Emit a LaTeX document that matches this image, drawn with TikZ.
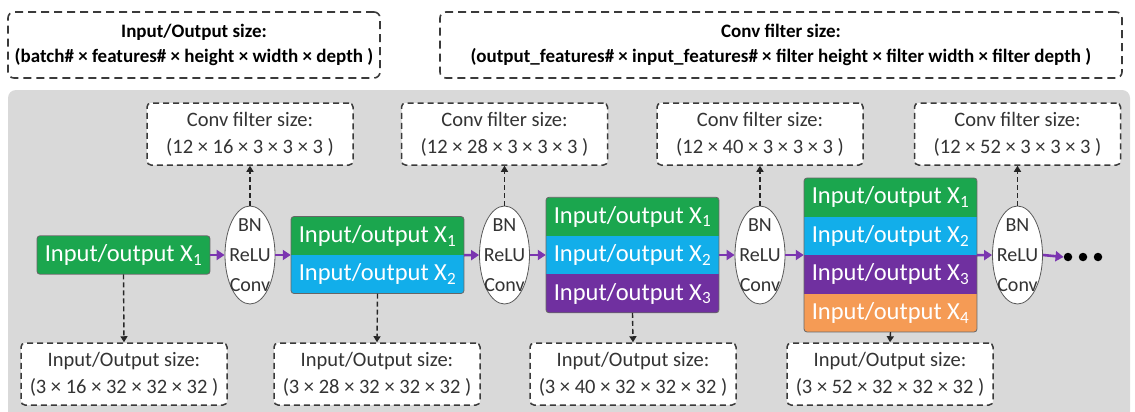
\documentclass[tikz,border=0pt]{standalone}
\usepackage{fontspec}
\setmainfont{Carlito}
\usetikzlibrary{shapes.geometric,arrows.meta}
\definecolor{gpanel}{HTML}{D9D9D9}
\definecolor{cgreen}{HTML}{1BA64E}
\definecolor{cblue}{HTML}{12AEEA}
\definecolor{cpurple}{HTML}{7030A0}
\definecolor{corange}{HTML}{F59B55}
\definecolor{arrowpurple}{HTML}{7B35B0}
\definecolor{dashgray}{HTML}{3A3A3A}
\definecolor{txtgray}{HTML}{333333}
\tikzset{
  hdr/.style={draw=dashgray, dash pattern=on 8pt off 5pt, line width=1.6pt, rounded corners=6pt,
    minimum height=66pt, align=center, font=\bfseries\fontsize{19}{25}\selectfont, inner sep=0pt, text=black},
  info/.style={draw=dashgray, fill=white, dash pattern=on 6pt off 4pt, line width=1.5pt, rounded corners=4pt,
    minimum width=206pt, minimum height=62pt, align=center, font=\fontsize{20.5}{27}\selectfont, text=txtgray, inner sep=0pt},
  row/.style={minimum width=173pt, minimum height=38.5pt, inner sep=0pt, text=white, font=\fontsize{24.5}{24.5}\selectfont},
  op/.style={ellipse, draw=gray!70!black, fill=white, line width=0.8pt, minimum width=50pt, minimum height=98pt, inner sep=0pt},
  optext/.style={align=center, font=\fontsize{20}{30}\selectfont, text=txtgray, inner sep=0pt},
  flow/.style={-{Triangle[length=8pt,width=10pt]}, line width=2.6pt, draw=arrowpurple},
  meta/.style={-{Triangle[length=6pt,width=7pt]}, dash pattern=on 5pt off 3pt, line width=1.4pt, draw=black!85},
  blockborder/.style={draw=black!60, line width=0.8pt, rounded corners=3pt},
  dot/.style={circle, fill=black, inner sep=0pt, minimum size=8.5pt}
}
\newcommand{\IO}[1]{Input/output X\textsubscript{#1}}
\begin{document}
\begin{tikzpicture}[x=1pt,y=-1pt]
\useasboundingbox (0,0) rectangle (1135,412);
% header boxes
\node[hdr, minimum width=372pt] (h1) at (194,45) {Input/Output size:\\(batch\# × features\# × height × width × depth )};
\node[hdr, minimum width=682pt] (h2) at (781,45) {Conv filter size:\\(output\_features\# × input\_features\# × filter height × filter width × filter depth )};
% panel
\fill[gpanel, rounded corners=8pt] (8,90) rectangle (1130,430);
% filter boxes
\node[info] (f1) at (250,134) {Conv filter size:\\(12 × 16 × 3 × 3 × 3 )};
\node[info] (f2) at (504.5,134) {Conv filter size:\\(12 × 28 × 3 × 3 × 3 )};
\node[info] (f3) at (760,134) {Conv filter size:\\(12 × 40 × 3 × 3 × 3 )};
\node[info] (f4) at (1017.5,134) {Conv filter size:\\(12 × 52 × 3 × 3 × 3 )};
% size boxes
\node[info] (o1) at (124,374) {Input/Output size:\\(3 × 16 × 32 × 32 × 32 )};
\node[info] (o2) at (377,374) {Input/Output size:\\(3 × 28 × 32 × 32 × 32 )};
\node[info] (o3) at (633,374) {Input/Output size:\\(3 × 40 × 32 × 32 × 32 )};
\node[info] (o4) at (890,374) {Input/Output size:\\(3 × 52 × 32 × 32 × 32 )};
% block 1
\begin{scope}
\clip[rounded corners=3pt] (37,235.75) rectangle (210,274.25);
\node[row, fill=cgreen] (b1) at (123.5,255) {\IO{1}};
\end{scope}
\draw[blockborder] (37,235.75) rectangle (210,274.25);
% block 2
\begin{scope}
\clip[rounded corners=3pt] (291,216.5) rectangle (464,293.5);
\node[row, fill=cgreen] (b2a) at (377.5,235.75) {\IO{1}};
\node[row, fill=cblue] (b2b) at (377.5,274.25) {\IO{2}};
\end{scope}
\draw[blockborder] (291,216.5) rectangle (464,293.5);
% block 3
\begin{scope}
\clip[rounded corners=3pt] (546,197.25) rectangle (719,312.75);
\node[row, fill=cgreen] (b3a) at (632.5,216.5) {\IO{1}};
\node[row, fill=cblue] (b3b) at (632.5,255) {\IO{2}};
\node[row, fill=cpurple] (b3c) at (632.5,293.5) {\IO{3}};
\end{scope}
\draw[blockborder] (546,197.25) rectangle (719,312.75);
% block 4
\begin{scope}
\clip[rounded corners=3pt] (804,178) rectangle (977,332);
\node[row, fill=cgreen] (b4a) at (890.5,197.25) {\IO{1}};
\node[row, fill=cblue] (b4b) at (890.5,235.75) {\IO{2}};
\node[row, fill=cpurple] (b4c) at (890.5,274.25) {\IO{3}};
\node[row, fill=corange] (b4d) at (890.5,312.75) {\IO{4}};
\end{scope}
\draw[blockborder] (804,178) rectangle (977,332);
% operations
\node[op] (e1) at (250,255) {};
\node[op] (e2) at (504.5,255) {};
\node[op] (e3) at (760,255) {};
\node[op] (e4) at (1017.5,255) {};
\foreach \e in {e1,e2,e3,e4} \node[optext] at (\e) {BN\\ReLU\\Conv};
% dots
\node[dot] (d1) at (1068,257) {};
\node[dot] (d2) at (1083,257) {};
\node[dot] (d3) at (1098,257) {};
% flow arrows
\draw[flow] (b1.east) -- (e1.west);
\draw[flow] (e1.east) -- (e1.east -| b2a.west);
\draw[flow] (b2a.south east) -- (e2.west);
\draw[flow] (e2.east) -- (b3b.west);
\draw[flow] (b3b.east) -- (e3.west);
\draw[flow] (e3.east) -- (e3.east -| b4a.west);
\draw[flow] (b4b.south east) -- (e4.west);
\draw[flow] (e4.east) -- (d1.west);
% meta arrows
\draw[meta] (e1.north) -- (f1.south);
\draw[meta] (e2.north) -- (f2.south);
\draw[meta] (e3.north) -- (f3.south);
\draw[meta] (e4.north) -- (f4.south);
\draw[meta] (b1.south) -- (o1.north);
\draw[meta] (b2b.south) -- (o2.north);
\draw[meta] (b3c.south) -- (o3.north);
\draw[meta] (b4d.south) -- (o4.north);
\end{tikzpicture}
\end{document}
